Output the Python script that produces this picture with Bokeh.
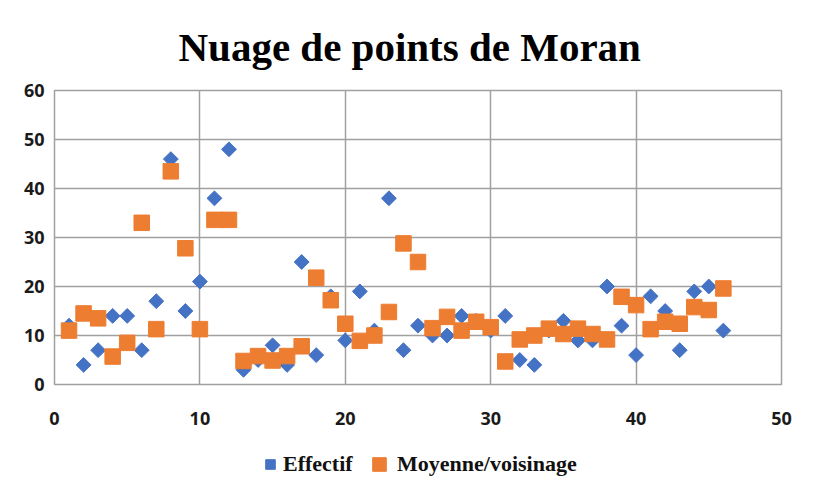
from bokeh.plotting import figure
from bokeh.layouts import column
from bokeh.models import Legend, LegendItem, FixedTicker, Range1d
from bokeh.embed import file_html
from bokeh.resources import INLINE
import math

x_vals = list(range(1, 47))
effectif = [12, 4, 7, 14, 14, 7, 17, 46, 15, 21, 38, 48, 3, 5, 8, 4, 25, 6, 18, 9,
            19, 11, 38, 7, 12, 10, 10, 14, 13, 11, 14, 5, 4, 11, 13, 9, 9, 20, 12, 6,
            18, 15, 7, 19, 20, 11]
moyenne = [11, 14.5, 13.5, 5.7, 8.5, 33, 11.3, 43.5, 27.8, 11.3, 33.6, 33.6, 4.8, 5.8,
           4.9, 5.8, 7.8, 21.8, 17.2, 12.4, 8.9, 10, 14.8, 28.8, 25, 11.5, 13.8, 11,
           12.8, 11.7, 4.7, 9.2, 10, 11.4, 10.3, 11.4, 10.3, 9.2, 17.9, 16.2, 11.3,
           12.8, 12.4, 15.8, 15.2, 19.6]
series_names = ["Effectif", "Moyenne/voisinage"]
x_ticks = [0, 10, 20, 30, 40, 50]
y_ticks = [0, 10, 20, 30, 40, 50, 60]

BLUE = "#4472C4"
ORANGE = "#ED7D31"

p = figure(width=807, height=434, output_backend="svg", toolbar_location=None,
           x_range=Range1d(0, 50), y_range=Range1d(0, 60),
           min_border_left=54, min_border_right=26, min_border_top=90,
           min_border_bottom=50)

p.title.text = "Nuage de points de Moran"
p.title.text_font = "Liberation Serif"
p.title.text_font_size = "41px"
p.title.text_font_style = "bold"
p.title.text_color = "black"
p.title.align = "left"
p.title.standoff = 41
p.title.offset = 124

grid_col = "#a0a0a0"
for ax in (p.xaxis[0], p.yaxis[0]):
    ax.axis_line_color = None
    ax.major_tick_line_color = None
    ax.minor_tick_line_color = None
    ax.major_tick_out = 0
    ax.major_tick_in = 0
    ax.major_label_text_font = "Open Sans"
    ax.major_label_text_font_style = "bold"
    ax.major_label_text_font_size = "18px"
    ax.major_label_text_color = "#1a1a1a"
p.xaxis.ticker = FixedTicker(ticks=x_ticks)
p.yaxis.ticker = FixedTicker(ticks=y_ticks)
p.xaxis.major_label_standoff = 27
p.yaxis.major_label_standoff = 10

p.xgrid.grid_line_color = grid_col
p.ygrid.grid_line_color = grid_col
p.xgrid.grid_line_width = 1.5
p.ygrid.grid_line_width = 1.5
p.outline_line_color = grid_col
p.outline_line_width = 1.5

p.scatter(x_vals, effectif, marker="square", angle=math.pi / 4, size=10.5,
          fill_color=BLUE, line_color=BLUE)
p.scatter(x_vals, moyenne, marker="square", size=15.5,
          fill_color=ORANGE, line_color=ORANGE)

# legend strip below the chart (its data lies outside the strip's view range,
# only the legend swatches are visible)
p2 = figure(width=807, height=46, output_backend="svg", toolbar_location=None,
            x_range=Range1d(-3, -2), y_range=Range1d(-3, -2),
            x_axis_type=None, y_axis_type=None,
            min_border_left=0, min_border_right=0, min_border_top=0,
            min_border_bottom=0)
p2.outline_line_color = None
p2.xgrid.visible = False
p2.ygrid.visible = False
lr1 = p2.scatter(x_vals, effectif, marker="square", angle=math.pi / 4,
                 fill_color=BLUE, line_color=BLUE)
lr2 = p2.scatter(x_vals, moyenne, marker="square",
                 fill_color=ORANGE, line_color=ORANGE)

def make_legend(name, rend, glyph, loc):
    lg = Legend(items=[LegendItem(label=name, renderers=[rend])],
                orientation="horizontal", location=loc)
    lg.label_text_font = "Liberation Serif"
    lg.label_text_font_style = "bold"
    lg.label_text_font_size = "22px"
    lg.label_text_color = "#111111"
    lg.border_line_color = None
    lg.background_fill_alpha = 0
    lg.glyph_width = glyph
    lg.glyph_height = glyph
    lg.label_standoff = 1
    lg.padding = 0
    lg.margin = 0
    return lg

p2.add_layout(make_legend(series_names[0], lr1, 24, (204, 3)), "center")
p2.add_layout(make_legend(series_names[1], lr2, 34, (308, -1)), "center")

layout = column(p, p2, spacing=0)

open("out.html", "w").write(file_html(layout, INLINE))
